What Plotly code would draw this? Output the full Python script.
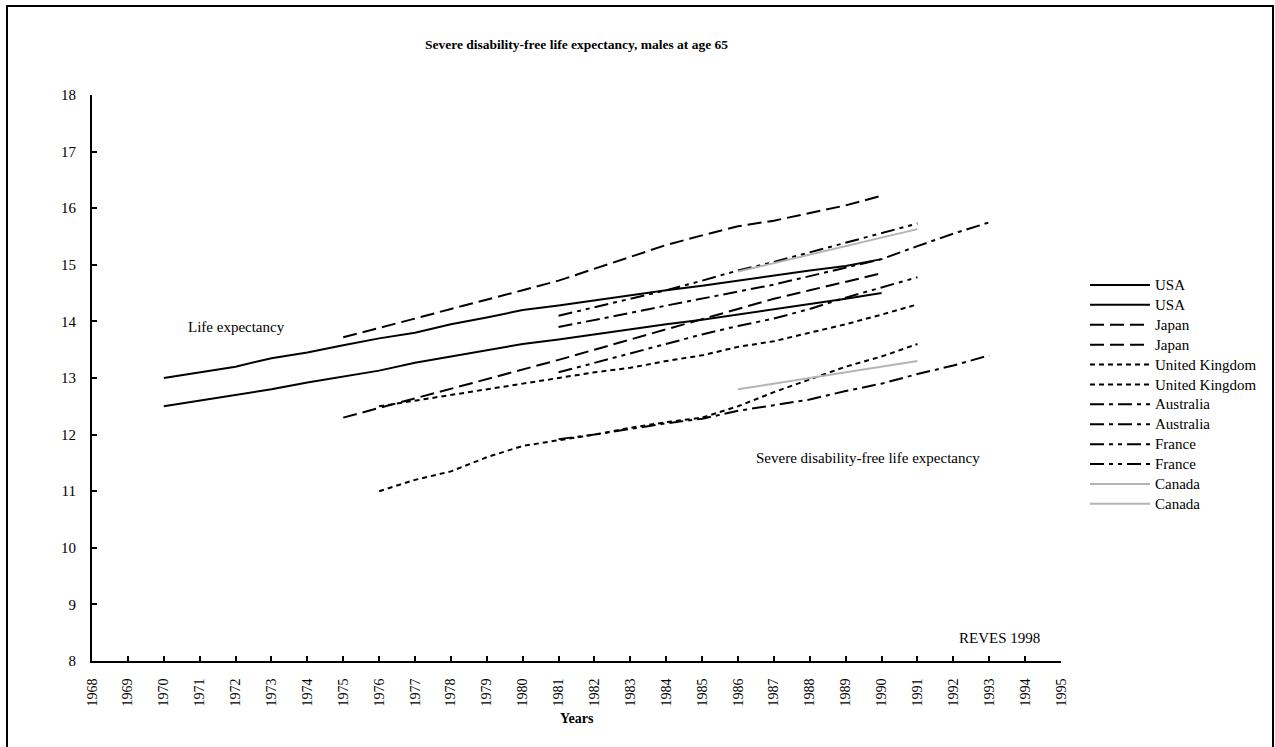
import plotly.graph_objects as go

# ---------------- data ----------------
years_usa = list(range(1970, 1991))
usa_le = [13.0, 13.1, 13.2, 13.35, 13.45, 13.58, 13.7, 13.8, 13.95, 14.07, 14.2,
          14.28, 14.37, 14.47, 14.55, 14.63, 14.72, 14.82, 14.9, 14.98, 15.1]
usa_sdfle = [12.5, 12.6, 12.7, 12.8, 12.92, 13.03, 13.13, 13.27, 13.38, 13.5, 13.6,
             13.68, 13.77, 13.87, 13.95, 14.03, 14.12, 14.22, 14.3, 14.4, 14.5]

years_japan = list(range(1975, 1991))
japan_le = [13.72, 13.88, 14.05, 14.22, 14.38, 14.55, 14.72, 14.93, 15.15, 15.35,
            15.52, 15.68, 15.78, 15.92, 16.05, 16.22]
japan_sdfle = [12.3, 12.47, 12.63, 12.8, 12.98, 13.15, 13.32, 13.5, 13.68, 13.87,
               14.05, 14.22, 14.4, 14.55, 14.7, 14.85]

years_uk = list(range(1976, 1992))
uk_le = [12.5, 12.6, 12.7, 12.8, 12.9, 13.0, 13.1, 13.18, 13.3, 13.4, 13.55, 13.65,
         13.8, 13.95, 14.12, 14.3]
uk_sdfle = [11.0, 11.2, 11.35, 11.6, 11.8, 11.9, 12.0, 12.12, 12.22, 12.3, 12.5,
            12.75, 12.98, 13.2, 13.38, 13.6]

years_aus = list(range(1981, 1994))
aus_le = [13.9, 14.02, 14.15, 14.28, 14.4, 14.52, 14.65, 14.8, 14.95, 15.1, 15.33,
          15.55, 15.75]
aus_sdfle = [11.92, 12.0, 12.1, 12.2, 12.28, 12.42, 12.52, 12.62, 12.77, 12.9, 13.07,
             13.22, 13.4]

years_fra = list(range(1981, 1992))
fra_le = [14.1, 14.25, 14.4, 14.55, 14.72, 14.9, 15.05, 15.22, 15.38, 15.55, 15.73]
fra_sdfle = [13.1, 13.27, 13.43, 13.6, 13.77, 13.92, 14.05, 14.22, 14.42, 14.6, 14.78]

years_can = list(range(1986, 1992))
can_le = [14.88, 15.03, 15.18, 15.32, 15.47, 15.63]
can_sdfle = [12.8, 12.9, 13.0, 13.1, 13.2, 13.3]

x_ticks = list(range(1968, 1996))
y_ticks = list(range(8, 19))

# ---------------- styles ----------------
FONT = "Liberation Serif, Times New Roman, serif"
series = [
    ("USA", years_usa, usa_le, "black", "solid"),
    ("USA", years_usa, usa_sdfle, "black", "solid"),
    ("Japan", years_japan, japan_le, "black", "14px,6px"),
    ("Japan", years_japan, japan_sdfle, "black", "14px,6px"),
    ("United Kingdom", years_uk, uk_le, "black", "5px,4px"),
    ("United Kingdom", years_uk, uk_sdfle, "black", "5px,4px"),
    ("Australia", years_aus, aus_le, "black", "14px,5px,4px,5px"),
    ("Australia", years_aus, aus_sdfle, "black", "14px,5px,4px,5px"),
    ("France", years_fra, fra_le, "black", "14px,5px,4px,5px,4px,5px"),
    ("France", years_fra, fra_sdfle, "black", "14px,5px,4px,5px,4px,5px"),
    ("Canada", years_can, can_le, "#b4b4b4", "solid"),
    ("Canada", years_can, can_sdfle, "#b4b4b4", "solid"),
]

fig = go.Figure()
for name, xs, ys, color, dash in series:
    fig.add_trace(go.Scatter(
        x=xs, y=ys, mode="lines",
        name='<span style="font-size:15px">' + name + "</span>",
        line=dict(color=color, width=2, dash=dash),
    ))

W, H = 1275, 747
L, R, T, B = 92, 214, 95, 86
pw, ph = W - L - R, H - T - B


def px_x(p):
    return (p - L) / pw


def px_y(p):
    return (H - B - p) / ph


fig.update_layout(
    width=W, height=H,
    margin=dict(l=L, r=R, t=T, b=B),
    paper_bgcolor="white", plot_bgcolor="white",
    font=dict(family=FONT, size=15, color="black"),
    title=dict(
        text="<b>Severe disability-free life expectancy, males at age 65</b>",
        x=0.5, xref="paper", xanchor="center",
        y=1 - 44 / H, yref="container", yanchor="middle",
        font=dict(family=FONT, size=13.5, color="black"),
    ),
    showlegend=True,
    legend=dict(
        x=px_x(1085), y=px_y(270), xanchor="left", yanchor="top",
        font=dict(family=FONT, size=13, color="black"),
        bgcolor="rgba(0,0,0,0)", tracegroupgap=0, itemwidth=60,
        traceorder="normal",
    ),
    xaxis=dict(
        range=[1968, 1995], tickmode="array", tickvals=x_ticks,
        ticktext=[str(v) for v in x_ticks], tickangle=-90,
        showgrid=False, zeroline=False, showline=True, linecolor="black",
        linewidth=2, ticks="inside", ticklen=5, tickwidth=1.5, tickcolor="black",
        tickfont=dict(family=FONT, size=14, color="black"),
        ticklabelstandoff=10,
    ),
    yaxis=dict(
        range=[8, 18], tickmode="array", tickvals=y_ticks,
        showgrid=False, zeroline=False, showline=True, linecolor="black",
        linewidth=2, ticks="inside", ticklen=5, tickwidth=1.5, tickcolor="black",
        tickfont=dict(family=FONT, size=15, color="black"),
        ticklabelstandoff=11,
    ),
)

# outer frame
fig.add_shape(type="rect", xref="paper", yref="paper",
              x0=px_x(7), x1=px_x(1273), y0=px_y(760), y1=px_y(6),
              line=dict(color="black", width=2), fillcolor="rgba(0,0,0,0)",
              layer="below")

fig.add_annotation(text="Life expectancy", x=1972.03, y=13.9, xref="x", yref="y",
                   showarrow=False, font=dict(family=FONT, size=15, color="black"))
fig.add_annotation(text="Severe disability-free life expectancy", x=1989.62, y=11.59,
                   xref="x", yref="y", showarrow=False,
                   font=dict(family=FONT, size=15, color="black"))
fig.add_annotation(text="REVES 1998", x=1993.3, y=8.41, xref="x", yref="y",
                   showarrow=False, font=dict(family=FONT, size=15, color="black"))
fig.add_annotation(text="<b>Years</b>", x=0.5, y=px_y(718), xref="paper", yref="paper",
                   showarrow=False, yanchor="middle",
                   font=dict(family=FONT, size=14, color="black"))

fig.write_html("out.html", config={"displayModeBar": False},
               post_script="document.body.style.margin='0px';")
